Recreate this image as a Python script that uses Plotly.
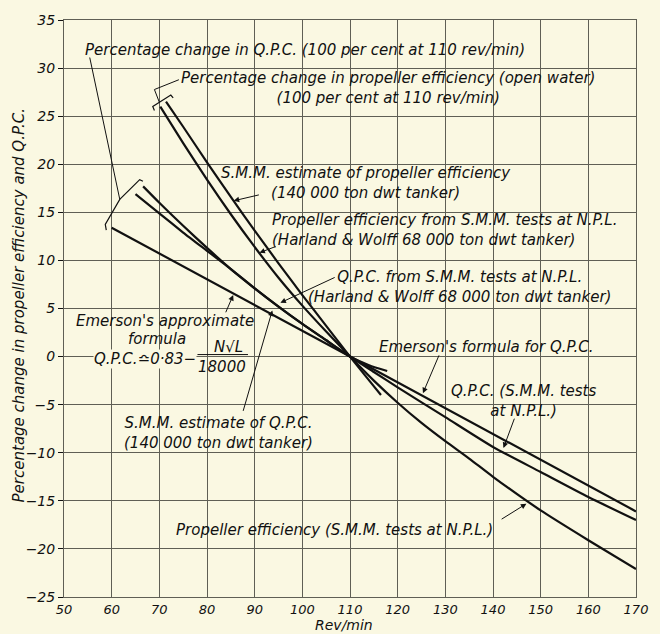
import plotly.graph_objects as go

# ---------------- data ----------------
rev_emerson = [60, 110, 170]
emerson_qpc = [13.4, 0.0, -16.1]

rev_qpc_npl = [66.6, 70, 75, 80, 85, 90, 95, 100, 105, 110, 115, 120, 130, 140, 150, 160, 170]
qpc_npl = [17.7, 16.0, 13.6, 11.3, 9.1, 7.1, 5.2, 3.4, 1.7, 0.0, -1.6, -3.2, -6.3, -9.4, -12.0, -14.6, -17.0]

rev_qpc_est = [65, 70, 75, 80, 85, 90, 95, 100, 105, 110, 114, 117.8]
qpc_est = [16.9, 14.9, 12.9, 11.0, 9.1, 7.1, 5.2, 3.4, 1.7, 0.0, -0.9, -1.5]

rev_prop_npl = [70.2, 75, 80, 85, 90, 95, 100, 105, 110, 115, 120, 125, 130, 135, 140, 150, 160, 170]
prop_npl = [26.0, 22.2, 18.4, 14.8, 11.4, 8.2, 5.3, 2.6, 0.0, -2.5, -4.8, -6.9, -8.8, -10.6, -12.5, -16.0, -19.1, -22.1]

rev_prop_est = [71.4, 75, 80, 85, 90, 95, 100, 105, 110, 116.5]
prop_est = [26.5, 23.9, 20.2, 16.6, 13.1, 9.7, 6.4, 3.2, 0.0, -4.0]

x_ticks = list(range(50, 171, 10))
y_ticks = list(range(-25, 36, 5))

# ---------------- style ----------------
PAPER = "#FAF8E2"
INK = "#111111"
GRID = "#5f5f55"
FONT = "DejaVu Sans"
LW = 2.2
FS = 15

fig = go.Figure()
for xs, ys in [(rev_emerson, emerson_qpc), (rev_qpc_npl, qpc_npl), (rev_qpc_est, qpc_est),
               (rev_prop_npl, prop_npl), (rev_prop_est, prop_est)]:
    fig.add_trace(go.Scatter(x=xs, y=ys, mode="lines", line=dict(color=INK, width=LW, shape="spline", smoothing=0.6),
                             showlegend=False, hoverinfo="skip"))

def lab(x, y, text, xanchor="center", size=FS, bg=None, align="center"):
    d = dict(x=x, y=y, xref="x", yref="y", text=text, showarrow=False, xanchor=xanchor, yanchor="middle",
             align=align, font=dict(family=FONT, size=size, color=INK, style="italic"))
    if bg:
        d["bgcolor"] = bg
        d["borderpad"] = 0
    return d

annotations = [
    lab(54.0, 31.9, "Percentage change in Q.P.C. (100 per cent at 110 rev/min)", "left"),
    lab(118.0, 27.9, "Percentage change in propeller efficiency (open water)<br>(100 per cent at 110 rev/min)"),
    lab(113.3, 18.1, "S.M.M. estimate of propeller efficiency<br>(140 000 ton dwt tanker)"),
    lab(93.3, 13.2, "Propeller efficiency from S.M.M. tests at N.P.L.<br>(Harland &amp; Wolff 68 000 ton dwt tanker)", "left", align="left"),
    lab(132.9, 7.2, "Q.P.C. from S.M.M. tests at N.P.L.<br>(Harland &amp; Wolff 68 000 ton dwt tanker)"),
    lab(71.1, 3.7, "Emerson's approximate"),
    lab(69.6, 1.8, "formula"),
    lab(77.8, -0.2, "Q.P.C.≏0·83−", "right", bg=PAPER),
    lab(84.5, 0.96, "N√L"),
    lab(83.1, -1.04, "18000"),
    lab(82.4, -7.9, "S.M.M. estimate of Q.P.C.<br>(140 000 ton dwt tanker)"),
    lab(138.7, 0.96, "Emerson's formula for Q.P.C."),
    lab(146.3, -4.66, "Q.P.C. (S.M.M. tests<br>at N.P.L.)"),
    lab(106.8, -18.0, "Propeller efficiency (S.M.M. tests at N.P.L.)"),
    dict(x=-0.079, y=0.505, xref="paper", yref="paper", text="Percentage change in propeller efficiency and Q.P.C.",
         textangle=-90, showarrow=False, xanchor="center", yanchor="middle",
         font=dict(family=FONT, size=FS, color=INK, style="italic")),
    dict(x=0.489, y=-0.049, xref="paper", yref="paper", text="Rev/min", showarrow=False,
         xanchor="center", yanchor="middle",
         font=dict(family=FONT, size=14, color=INK, style="italic")),
]

def arrow(tail, tip):
    return dict(x=tip[0], y=tip[1], ax=tail[0], ay=tail[1], xref="x", yref="y", axref="x", ayref="y",
                text="", showarrow=True, arrowhead=2, arrowsize=1.1, arrowwidth=1, arrowcolor=INK)

annotations += [
    arrow((91.2, 16.85), (85.6, 16.2)),
    arrow((94.7, 11.5), (91.0, 10.8)),
    arrow((107.1, 8.3), (95.4, 5.6)),
    arrow((83.8, 4.45), (85.5, 6.4)),
    arrow((87.5, -5.8), (93.7, 4.8)),
    arrow((128.8, 0.28), (125.3, -3.8)),
    arrow((144.6, -6.3), (142.2, -9.5)),
    arrow((141.5, -17.0), (147.0, -15.3)),
]

shapes = [
    # fraction bar in Emerson's formula
    dict(type="line", xref="x", yref="y", x0=78.0, x1=88.6, y0=0.21, y1=0.21, line=dict(color=INK, width=1)),
    # bracket + leader for Q.P.C. lines
    dict(type="path", xref="x", yref="y",
         path="M 58.87,13.16 L 58.66,13.75 L 61.7,16.35 L 65.88,18.4 L 66.56,18.24",
         line=dict(color=INK, width=1.2)),
    dict(type="line", xref="x", yref="y", x0=55.4, y0=31.1, x1=61.7, y1=16.35, line=dict(color=INK, width=1)),
    # bracket + leader for propeller efficiency lines
    dict(type="path", xref="x", yref="y",
         path="M 68.97,25.6 L 68.62,26.0 L 72.41,27.2 L 72.9,26.9",
         line=dict(color=INK, width=1.2)),
    dict(type="path", xref="x", yref="y",
         path="M 70.0,26.45 L 68.97,27.77 L 74.1,28.79",
         line=dict(color=INK, width=1)),
]

axis_common = dict(showgrid=True, gridcolor=GRID, gridwidth=1, zeroline=False, showline=True, mirror=True,
                   linecolor=GRID, linewidth=1)

fig.update_layout(
    width=660, height=634, margin=dict(l=64, r=15, t=18, b=37),
    paper_bgcolor=PAPER, plot_bgcolor=PAPER,
    xaxis=dict(range=[50, 170], tickvals=x_ticks, ticktext=[str(v) for v in x_ticks], ticks="",
               tickfont=dict(family=FONT, size=13, color=INK, style="italic"), **axis_common),
    yaxis=dict(range=[-25, 35], tickvals=y_ticks, ticktext=[str(v).replace("-", "−") for v in y_ticks],
               ticks="outside", ticklen=5, tickcolor=INK,
               tickfont=dict(family=FONT, size=14, color=INK, style="italic"), **axis_common),
    annotations=annotations, shapes=shapes, showlegend=False,
)

fig.write_html("out.html")
